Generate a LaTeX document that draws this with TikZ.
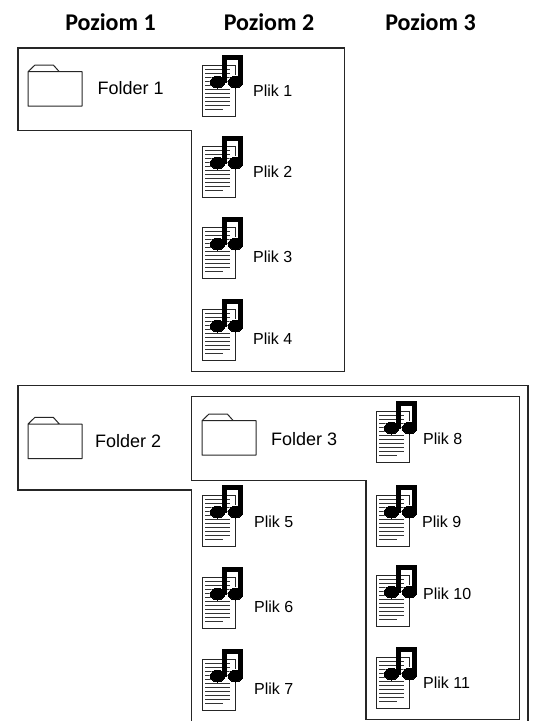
\documentclass[tikz,border=0pt]{standalone}
\usepackage{fontspec}
\setmainfont{Liberation Sans}
\newfontfamily\headfont{Carlito}
\tikzset{
  folder/.pic={
    \draw[black!85,line width=1pt,line join=round] (0,0) rectangle (54,34.5)
      (0,0) -- (7,-6.7) -- (25.3,-6.7) -- (31.3,0);
  },
  musicfile/.pic={
    \filldraw[fill=white,draw=black!85,line width=0.8pt] (0,0) rectangle (33,51);
    \foreach \ly/\lx in {4.5/28,8.5/28,12.5/28,16.5/28,20.5/22,24.5/28,28.5/28,32.5/28,36.5/28,40.5/28,44.5/21}
      \draw[black!80,line width=0.8pt] (3,\ly) -- (\lx,\ly);
    % note, white rim first
    \foreach \rim/\ink in {white/1.8pt,black/0pt}{
      \filldraw[fill=\rim,draw=\rim,line width=\ink] (20.5,17) -- (20.5,-9.5) -- (40,-9.5) -- (40,17)
        -- (36.5,17) -- (36.5,-5.5) -- (24,-5.5) -- (24,17) -- cycle;
      \filldraw[fill=\rim,draw=\rim,line width=\ink] (15.5,17) ellipse [x radius=7pt,y radius=6pt];
      \filldraw[fill=\rim,draw=\rim,line width=\ink] (33.5,17) ellipse [x radius=7pt,y radius=6pt];
    }
  }
}
\begin{document}
\begin{tikzpicture}[x=1pt,y=-1pt,
    level/.style={anchor=base,inner sep=0pt,font=\headfont\bfseries\fontsize{24}{28}\selectfont},
    dirlabel/.style={anchor=west,inner sep=0pt,font=\fontsize{18}{22}\selectfont},
    filelabel/.style={anchor=west,inner sep=0pt,font=\fontsize{16}{19}\selectfont},
    group/.style={draw=black!85,line width=1.2pt,line join=miter}]
  \useasboundingbox (0,0) rectangle (533,721);
  \clip (0,0) rectangle (533,721);
  % levels
  \node[level] (lvl1) at (110.5,30.7) {Poziom 1};
  \node[level] (lvl2) at (269,30.7) {Poziom 2};
  \node[level] (lvl3) at (430.5,30.7) {Poziom 3};
  % groups
  \draw[group] (18,48) -- (344.5,48) -- (344.5,371.5) -- (191.5,371.5) -- (191.5,130.5) -- (18,130.5) -- cycle;
  \draw[group] (191.5,730) -- (191.5,490) -- (18,490) -- (18,385.7) -- (528,385.7) -- (528,730);
  \draw[group] (191.5,396.7) -- (519.5,396.7) -- (519.5,719.5) -- (366,719.5) -- (366,480.5) -- (191.5,480.5) -- cycle;
  % folders
  \pic at (28,71.7) {folder};
  \node[dirlabel] (dir1) at (97.5,88.3) {Folder 1};
  \pic at (28,424) {folder};
  \node[dirlabel] (dir2) at (95,441.5) {Folder 2};
  \pic at (202,420.7) {folder};
  \node[dirlabel] (dir3) at (271,439) {Folder 3};
  % files
  \foreach \n/\px/\py/\tx/\ty in {1/202/65/253/91, 2/202/146/253/171.7, 3/202/227/253/256.7,
      4/202/309/253/338.3, 5/202/495/254/521.7, 6/202/577/254/606.7, 7/202/659/254/688.3,
      8/376/411/423/439, 9/376/495/422/521.7, 10/376/575/423/594, 11/376/657/423/683}{
    \pic at (\px,\py) {musicfile};
    \node[filelabel] (plik\n) at (\tx,\ty) {Plik \n};
  }
\end{tikzpicture}
\end{document}
